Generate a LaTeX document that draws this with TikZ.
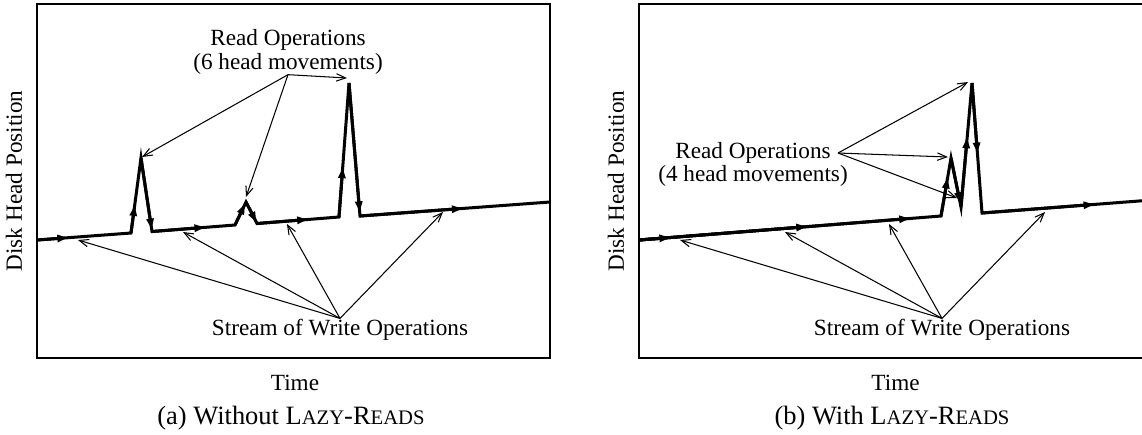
\documentclass[tikz,border=0pt]{standalone}
\usepackage{fontspec}
\setmainfont{Liberation Serif}
\usetikzlibrary{arrows.meta, calc}

\tikzset{
  panel/.style={draw, line width=0.6pt},
  stream/.style={line width=1.3pt, line join=miter},
  flowtip/.style={line width=1.3pt, -{Triangle[length=4.6pt, width=3pt]}},
  pointer/.style={line width=0.45pt, -{Straight Barb[length=4pt, width=3.2pt]}},
  lbl/.style={font=\fontsize{10}{8.3}\selectfont, inner sep=0pt, align=center},
  captxt/.style={font=\fontsize{11.4}{13}\selectfont, inner sep=0pt}
}
\newcommand{\lzsc}[1]{{\fontsize{8.9}{10}\selectfont #1}}

\begin{document}
\begin{tikzpicture}[x=0.431pt, y=-0.431pt]
  \useasboundingbox (0,0) rectangle (1142,434);

  % (a) without lazy reads
  \draw[panel] (37,4) rectangle (550,358);
  \node[lbl, rotate=90] (yA) at (14,181) {Disk Head Position};
  \node[lbl] (tA) at (295,383) {Time};
  \node[captxt] (cA) at (291,418) {(a) Without L\lzsc{AZY}-R\lzsc{EADS}};
  \node[lbl] (rdA) at (288,52) {Read Operations\\(6 head movements)};
  \node[lbl] (wsA) at (340,329.5) {Stream of Write Operations};

  \coordinate (a0) at (37,240);
  \coordinate (a1) at (131,233);
  \coordinate (a2) at (141,158);
  \coordinate (a3) at (152,231.5);
  \coordinate (a4) at (235,225);
  \coordinate (a5) at (246,202);
  \coordinate (a6) at (257,223.5);
  \coordinate (a7) at (339,217);
  \coordinate (a8) at (349,83);
  \coordinate (a9) at (360,216);
  \coordinate (a10) at (550,202);
  \draw[stream] (a0) -- (a1) -- (a2) -- (a3) -- (a4) -- (a5) -- (a6) -- (a7) -- (a8) -- (a9) -- (a10);
  \foreach \p/\q/\t in {a0/a1/0.33, a1/a2/0.37, a2/a3/0.97, a3/a4/0.64, a4/a5/0.92,
                        a5/a6/0.95, a6/a7/0.62, a7/a8/0.37, a8/a9/0.97, a9/a10/0.54}
    \draw[flowtip] (\p) -- ($(\p)!\t!(\q)$);

  \coordinate (pa1) at (142,157);
  \coordinate (pa2) at (246,197);
  \coordinate (pa3) at (347,78);
  \foreach \t in {pa1, pa2, pa3}
    \draw[pointer] (rdA.south) -- (\t);
  \coordinate (wa1) at (78,240);
  \coordinate (wa2) at (183,232);
  \coordinate (wa3) at (287,224);
  \coordinate (wa4) at (443,212);
  \foreach \t in {wa1, wa2, wa3, wa4}
    \draw[pointer] (wsA.north) -- (\t);

  % (b) with lazy reads
  \draw[panel] (639,4) rectangle (1152,358);
  \node[lbl, rotate=90] (yB) at (616,181) {Disk Head Position};
  \node[lbl] (tB) at (895.5,383) {Time};
  \node[captxt] (cB) at (892,418) {(b) With L\lzsc{AZY}-R\lzsc{EADS}};
  \node[lbl] (rdB) at (753,164.5) {Read Operations\\(4 head movements)};
  \node[lbl] (wsB) at (942,329.5) {Stream of Write Operations};
  \coordinate (rB) at (838,153);

  \coordinate (b0) at (639,240);
  \coordinate (b1) at (941,216);
  \coordinate (b2) at (951,158);
  \coordinate (b3) at (961,207);
  \coordinate (b4) at (972,83);
  \coordinate (b5) at (982,213);
  \coordinate (b6) at (1152,200);
  \draw[stream] (b0) -- (b1) -- (b2) -- (b3) -- (b4) -- (b5) -- (b6);
  \foreach \p/\q/\t in {b0/b1/0.103, b0/b1/0.556, b0/b1/0.897, b1/b2/0.66,
                        b2/b3/0.92, b3/b4/0.56, b4/b5/0.54, b5/b6/0.66}
    \draw[flowtip] (\p) -- ($(\p)!\t!(\q)$);

  \coordinate (pb1) at (968,82);
  \coordinate (pb2) at (948,157);
  \coordinate (pb3) at (957,198);
  \foreach \t in {pb1, pb2, pb3}
    \draw[pointer] (rB) -- (\t);
  \coordinate (wb1) at (680,240);
  \coordinate (wb2) at (785,232);
  \coordinate (wb3) at (889,224);
  \coordinate (wb4) at (1045,212);
  \foreach \t in {wb1, wb2, wb3, wb4}
    \draw[pointer] (wsB.north) -- (\t);
\end{tikzpicture}
\end{document}
